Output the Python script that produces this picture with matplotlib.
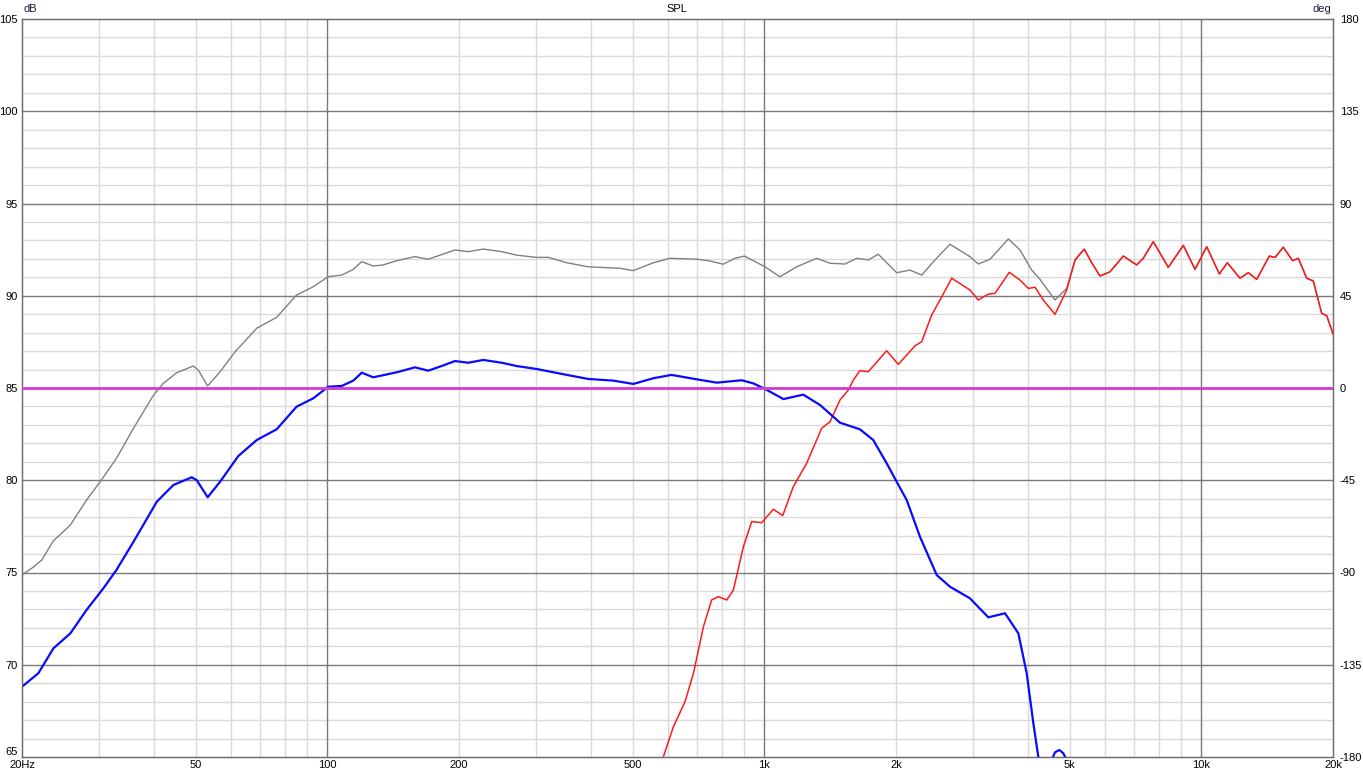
import numpy as np
import matplotlib
matplotlib.use("Agg")
import matplotlib.pyplot as plt
from matplotlib.ticker import FixedLocator, NullFormatter

plt.rcParams['font.family'] = ['Liberation Sans', 'DejaVu Sans']
plt.rcParams['axes.unicode_minus'] = False

# summed response (grey), below ~5.3 kHz; above that it follows the tweeter
sum_freq = [20.0, 21.2, 22.2, 23.6, 25.8, 28.1, 30.2, 32.9, 36.0, 40.0, 42.1,
            45.2, 49.3, 50.6, 53.2, 56.8, 61.5, 68.9, 76.5, 85.0, 92.8, 100.4,
            107.8, 114.6, 119.8, 127.3, 134.2, 144.0, 158.6, 170.1, 181.0,
            195.8, 210.0, 227.2, 250.4, 271, 301, 320, 353, 395, 467, 501,
            557, 608, 700, 744, 805, 856, 900, 1003, 1085, 1185, 1317, 1413,
            1529, 1626, 1728, 1822, 2007, 2152, 2290, 2456, 2658, 2953, 3086,
            3282, 3615, 3844, 4089, 4270, 4622, 4916, 5136, 5272]
sum_db = [74.87, 75.28, 75.68, 76.72, 77.57, 78.93, 79.92, 81.19, 82.82,
          84.62, 85.25, 85.83, 86.19, 85.98, 85.11, 85.88, 86.97, 88.24, 88.83,
          90.04, 90.49, 91.03, 91.12, 91.43, 91.85, 91.61, 91.67, 91.9, 92.12,
          91.98, 92.2, 92.48, 92.39, 92.53, 92.39, 92.2, 92.08, 92.08, 91.79,
          91.57, 91.49, 91.36, 91.79, 92.03, 91.98, 91.9, 91.71, 92.03, 92.15,
          91.57, 91.03, 91.57, 92.03, 91.76, 91.72, 92.03, 91.94, 92.25, 91.25,
          91.39, 91.12, 91.94, 92.79, 92.12, 91.72, 91.98, 93.08, 92.48, 91.39,
          90.89, 89.77, 90.4, 91.9, 92.28]

# woofer (blue)
woofer_freq = [20.0, 21.8, 23.6, 25.8, 28.1, 30.7, 32.9, 36.0, 40.7, 44.4,
               48.9, 50.2, 53.2, 56.8, 62.5, 68.9, 76.5, 85.0, 92.8, 100.4,
               107.8, 114.6, 119.8, 127.3, 144.0, 158.6, 170.1, 181.0, 195.8,
               210.0, 227.2, 250.4, 271, 301, 353, 395, 451, 501, 557, 613,
               700, 778, 887, 943, 1003, 1105, 1227, 1340, 1489, 1654, 1774,
               1904, 2007, 2116, 2269, 2479, 2658, 2953, 3253, 3552, 3811,
               3982, 4124, 4234, 4380, 4547, 4620, 4729, 4830, 4900, 5100]
woofer_db = [68.81, 69.54, 70.89, 71.7, 72.97, 74.14, 75.14, 76.67, 78.84,
             79.74, 80.16, 80.01, 79.08, 79.92, 81.31, 82.18, 82.76, 83.99,
             84.44, 85.07, 85.11, 85.4, 85.83, 85.58, 85.85, 86.12, 85.94,
             86.16, 86.46, 86.37, 86.52, 86.37, 86.19, 86.03, 85.71, 85.49,
             85.4, 85.22, 85.53, 85.71, 85.47, 85.29, 85.42, 85.25, 84.95,
             84.4, 84.64, 84.08, 83.12, 82.76, 82.18, 80.92, 79.92, 78.93,
             76.94, 74.86, 74.23, 73.6, 72.57, 72.79, 71.7, 69.54, 66.83, 65.0,
             61.5, 64.85, 65.25, 65.38, 65.2, 64.9, 62.0]

# tweeter (red)
tweeter_freq = [560, 587, 619, 658, 688, 725, 757, 784, 820, 849, 895, 935,
                986, 1048, 1101, 1164, 1249, 1352, 1413, 1489, 1556, 1597,
                1654, 1728, 1904, 2024, 2210, 2290, 2414, 2522, 2682, 2953,
                3086, 3253, 3370, 3634, 3844, 4016, 4161, 4346, 4622, 4916,
                5136, 5395, 5608, 5860, 6177, 6626, 7108, 7360, 7759, 8398,
                9090, 9668, 10280, 10990, 11460, 12250, 12800, 13380, 14300,
                14740, 15390, 16170, 16660, 17410, 18030, 18840, 19350, 20000]
tweeter_db = [63.5, 65.0, 66.64, 68.0, 69.54, 72.06, 73.51, 73.69, 73.51,
              74.05, 76.4, 77.76, 77.7, 78.43, 78.08, 79.65, 80.92, 82.82,
              83.17, 84.35, 84.89, 85.43, 85.94, 85.88, 87.02, 86.28, 87.28,
              87.51, 88.96, 89.77, 90.95, 90.31, 89.77, 90.09, 90.13, 91.27,
              90.85, 90.4, 90.46, 89.77, 88.99, 90.31, 91.94, 92.52, 91.79,
              91.07, 91.3, 92.15, 91.67, 92.03, 92.93, 91.54, 92.73, 91.43,
              92.66, 91.18, 91.79, 90.95, 91.25, 90.89, 92.15, 92.08, 92.63,
              91.9, 92.03, 90.95, 90.8, 89.05, 88.92, 87.93]

phase_freq = [20, 20000]
phase_deg = [0, 0]

x_ticks = [20, 50, 100, 200, 500, 1000, 2000, 5000, 10000, 20000]
x_labels = ["20Hz", "50", "100", "200", "500", "1k", "2k", "5k", "10k", "20k"]
db_ticks = [65, 70, 75, 80, 85, 90, 95, 100, 105]
deg_ticks = [-180, -135, -90, -45, 0, 45, 90, 135, 180]

# sum follows tweeter above the last LF point
hf = [i for i, f in enumerate(tweeter_freq) if f > sum_freq[-1]]
sum_f_all = sum_freq + [tweeter_freq[i] for i in hf]
sum_db_all = sum_db + [tweeter_db[i] for i in hf]

W, H = 1363, 776
fig = plt.figure(figsize=(W / 100, H / 100), dpi=100)
ax = fig.add_axes([22 / W, 19 / H, 1311 / W, 738 / H])

ax.set_xscale('log')
ax.set_xlim(20, 20000)
ax.set_ylim(65, 105)

# grids
minor_x = [f * m for f in (10, 100, 1000, 10000) for m in range(2, 10)
           if 20 < f * m < 20000]
for f in minor_x:
    ax.axvline(f, color='#dadada', lw=1, zorder=0)
for f in (100, 1000, 10000):
    ax.axvline(f, color='#7a7a7a', lw=1, zorder=0.5)
for v in range(66, 105):
    if v % 5:
        ax.axhline(v, color='#dadada', lw=1, zorder=0)
for v in db_ticks[1:-1]:
    ax.axhline(v, color='#7a7a7a', lw=1, zorder=0.5)

ax.plot(sum_f_all, sum_db_all, color='#808080', lw=1.0, zorder=3)
ax.plot(tweeter_freq, tweeter_db, color='#ff1a1a', lw=1.1, zorder=4)
ax.plot(woofer_freq, woofer_db, color='#0a0aff', lw=1.6, zorder=5)

ax.xaxis.set_major_locator(FixedLocator(x_ticks))
ax.xaxis.set_minor_formatter(NullFormatter())
ax.xaxis.set_minor_locator(FixedLocator([]))
ax.set_xticklabels(x_labels)
ax.set_yticks(db_ticks)
ax.tick_params(axis='both', length=0, labelsize=8, colors='black')
ax.tick_params(axis='y', pad=3)
ax.tick_params(axis='x', pad=2)
ax.get_yticklabels()[0].set_va('bottom')

for s in ax.spines.values():
    s.set_color('#6e6e6e')
    s.set_linewidth(1)

ax2 = ax.twinx()
ax2.set_ylim(-180, 180)
ax2.set_yticks(deg_ticks)
ax2.tick_params(axis='y', length=0, labelsize=8, pad=5)
ax2.plot(phase_freq, phase_deg, color='#d23cd2', lw=2, zorder=6)
for s in ax2.spines.values():
    s.set_color('#6e6e6e')

fig.text(677 / W, 1 - 9 / H, "SPL", ha='center', va='center', fontsize=8)
fig.text(24 / W, 1 - 9 / H, "dB", ha='left', va='center', fontsize=8,
         color='#1a1a3a')
fig.text(1331 / W, 1 - 9 / H, "deg", ha='right', va='center', fontsize=8,
         color='#1a1a3a')

fig.savefig("out.png", dpi=100, facecolor='white')
